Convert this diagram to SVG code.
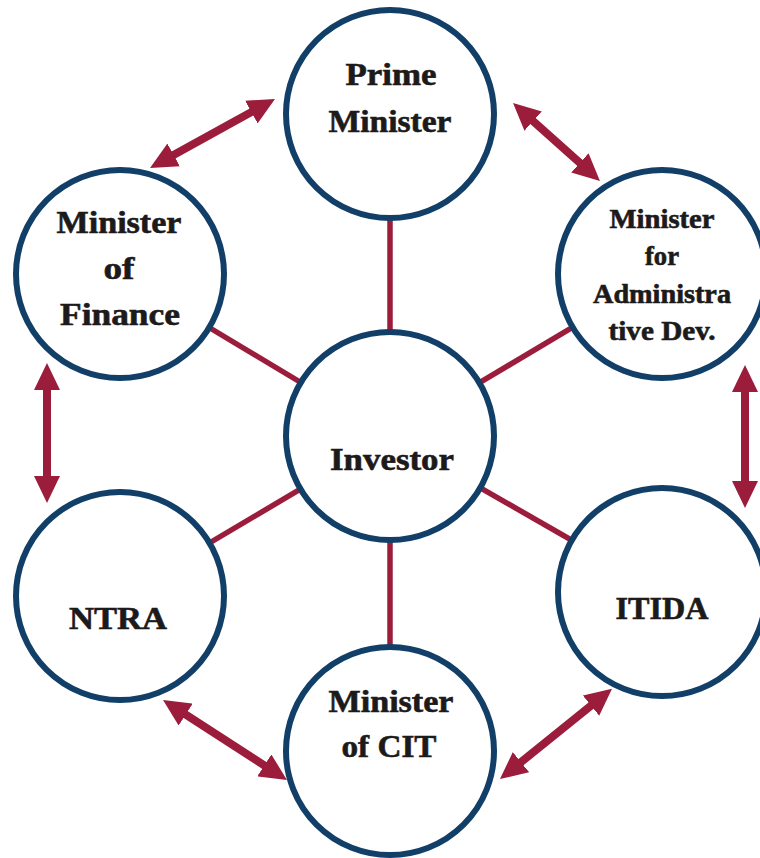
<svg xmlns="http://www.w3.org/2000/svg" width="760" height="858" viewBox="0 0 760 858">
<style>
.node{fill:#ffffff;stroke:#123f68;stroke-width:6}
.spoke{stroke:#9b1c3b;stroke-width:5.5;fill:none}
.arr{stroke:#9b1c3b;stroke-width:8;fill:none;marker-start:url(#head);marker-end:url(#head)}
.t{font-family:"Liberation Serif","Times New Roman",serif;font-weight:bold;fill:#1c1a1a;stroke:#1c1a1a;stroke-width:0.6;text-anchor:middle;font-size:32px}
.s{font-size:27px}
</style>
<defs>
<marker id="head" markerUnits="userSpaceOnUse" markerWidth="27" markerHeight="26" viewBox="0 0 27 26" refX="10" refY="13" orient="auto-start-reverse">
<path d="M0,0 L27,13 L0,26 z" fill="#9b1c3b"/>
</marker>
</defs>
<rect width="760" height="858" fill="#ffffff"/>
<g id="connectors">
<line class="spoke" x1="390" y1="436" x2="390" y2="114"/>
<line class="spoke" x1="390" y1="436" x2="120" y2="274"/>
<line class="spoke" x1="390" y1="436" x2="662" y2="274"/>
<line class="spoke" x1="390" y1="436" x2="120" y2="596"/>
<line class="spoke" x1="390" y1="436" x2="662" y2="592"/>
<line class="spoke" x1="390" y1="436" x2="390" y2="751"/>
<line class="arr" x1="164.9" y1="159.8" x2="260.1" y2="107.2"/>
<line class="arr" x1="525.7" y1="114.4" x2="587.3" y2="169.6"/>
<line class="arr" x1="47" y1="380" x2="47" y2="486"/>
<line class="arr" x1="745" y1="382" x2="745" y2="491"/>
<line class="arr" x1="177.3" y1="709.2" x2="272.7" y2="770.8"/>
<line class="arr" x1="513.2" y1="768.4" x2="598.8" y2="699.4"/>
</g>
<g id="prime-minister">
<circle class="node" cx="390" cy="114" r="104"/>
<text class="t" x="391" y="85" textLength="91" lengthAdjust="spacingAndGlyphs">Prime</text>
<text class="t" x="390" y="132" textLength="123" lengthAdjust="spacingAndGlyphs">Minister</text>
</g>
<g id="minister-of-finance">
<circle class="node" cx="120" cy="274" r="104"/>
<text class="t" x="119" y="233" textLength="125" lengthAdjust="spacingAndGlyphs">Minister</text>
<text class="t" x="119" y="279" textLength="31" lengthAdjust="spacingAndGlyphs">of</text>
<text class="t" x="120" y="325" textLength="120" lengthAdjust="spacingAndGlyphs">Finance</text>
</g>
<g id="minister-admin-dev">
<circle class="node" cx="662" cy="274" r="104"/>
<text class="t s" x="662" y="228" textLength="105" lengthAdjust="spacingAndGlyphs">Minister</text>
<text class="t s" x="662" y="265" textLength="34" lengthAdjust="spacingAndGlyphs">for</text>
<text class="t s" x="662" y="303" textLength="138" lengthAdjust="spacingAndGlyphs">Administra</text>
<text class="t s" x="662" y="340" textLength="107" lengthAdjust="spacingAndGlyphs">tive Dev.</text>
</g>
<g id="investor">
<circle class="node" cx="390" cy="436" r="104"/>
<text class="t" x="392" y="470" textLength="124" lengthAdjust="spacingAndGlyphs">Investor</text>
</g>
<g id="ntra">
<circle class="node" cx="120" cy="596" r="104"/>
<text class="t" x="118" y="629" textLength="98" lengthAdjust="spacingAndGlyphs">NTRA</text>
</g>
<g id="itida">
<circle class="node" cx="662" cy="592" r="104"/>
<text class="t" x="662" y="619" textLength="93" lengthAdjust="spacingAndGlyphs">ITIDA</text>
</g>
<g id="minister-of-cit">
<circle class="node" cx="390" cy="751" r="104"/>
<text class="t" x="391" y="712" textLength="125" lengthAdjust="spacingAndGlyphs">Minister</text>
<text class="t" x="389" y="757" textLength="95" lengthAdjust="spacingAndGlyphs">of CIT</text>
</g>
</svg>
